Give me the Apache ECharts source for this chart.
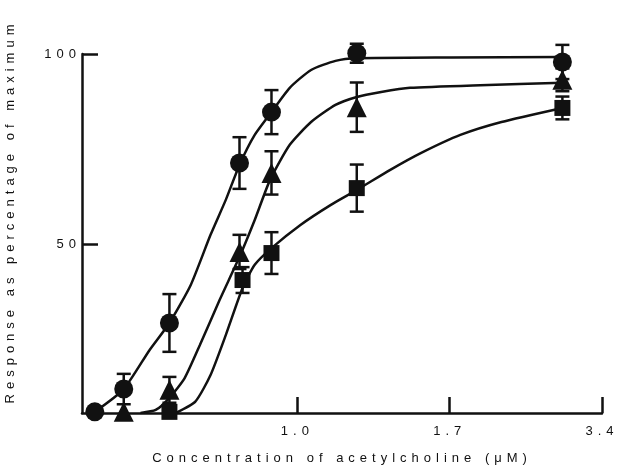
<!DOCTYPE html>
<html>
<head>
<meta charset="utf-8">
<script src="https://cdn.jsdelivr.net/npm/echarts@6/dist/echarts.min.js"></script>
<style>
  html, body { margin: 0; background: #fff; }
  #chart { width: 617px; height: 466px; }
</style>
</head>
<body>
<div id="chart"></div>
<script>
// x is in "dose step" units: 1 = the 1.0 tick, 2 = 1.7, 3 = 3.4
const tickX = [1, 2, 3];
const tickLabels = ['1.0', '1.7', '3.4'];
const yTicks = [50, 100];

// circles
const circleX = [-0.33, -0.14, 0.16, 0.62, 0.83, 1.39, 2.74];
const circleY = [5.8, 11.8, 29.2, 71.3, 84.7, 100.2, 97.9];
const circleErr = [0, 4, 7.6, 6.8, 5.8, 2.5, 4.5];
// triangles
const triX = [-0.14, 0.16, 0.62, 0.83, 1.39, 2.74];
const triY = [5.8, 11.6, 47.9, 68.7, 86, 93.2];
const triErr = [0, 3.4, 4.5, 5.7, 6.5, 3];
// squares
const sqX = [0.16, 0.64, 0.83, 1.39, 2.74];
const sqY = [5.8, 40.5, 47.6, 64.7, 85.8];
const sqErr = [0, 3.4, 5.5, 6.2, 3];

// fitted curves
const circleCurveX = [-0.33, -0.14, 0.03, 0.16, 0.30, 0.43, 0.53, 0.62, 0.72, 0.83, 0.95, 1.09, 1.25, 1.39, 2.01, 2.74];
const circleCurveY = [5.8, 11.8, 22.1, 29.2, 39.2, 52.4, 61.6, 70.8, 78.7, 84.7, 91.1, 95.8, 98.2, 98.9, 99.1, 99.2];
const triCurveX = [-0.03, 0.07, 0.16, 0.26, 0.36, 0.49, 0.62, 0.72, 0.82, 0.95, 1.09, 1.25, 1.39, 1.55, 1.74, 2.20, 2.74];
const triCurveY = [5.5, 6.3, 9.5, 14.7, 23.4, 35.3, 46.6, 56.3, 66.8, 76.1, 82.1, 86.6, 88.7, 90, 91.1, 91.8, 92.4];
const sqCurveX = [0.20, 0.33, 0.43, 0.53, 0.64, 0.72, 0.83, 1.02, 1.22, 1.39, 1.61, 1.81, 2.07, 2.34, 2.74];
const sqCurveY = [5.5, 8.5, 15.5, 26, 38.4, 44.5, 48.9, 55, 60.3, 64.2, 69.5, 73.9, 78.7, 82.1, 85.8];

// the figure's lettering is widely spaced; canvas letterSpacing does that
['fillText', 'measureText'].forEach(function (fn) {
  const orig = CanvasRenderingContext2D.prototype[fn];
  CanvasRenderingContext2D.prototype[fn] = function () {
    this.letterSpacing = '5px';
    return orig.apply(this, arguments);
  };
});

const ink = '#111';
const zip = (xs, ys) => xs.map((x, i) => [x, ys[i]]);
const zip3 = (xs, ys, es) => xs.map((x, i) => [x, ys[i], es[i]]);

function curve(xs, ys) {
  return {
    type: 'line', data: zip(xs, ys), smooth: 0.2, showSymbol: false,
    lineStyle: { color: ink, width: 2.5 }, z: 1
  };
}
function errorBars(xs, ys, es) {
  return {
    type: 'custom', z: 2,
    data: zip3(xs, ys, es),
    renderItem: function (params, api) {
      const e = api.value(2);
      if (!e) return;
      const top = api.coord([api.value(0), api.value(1) + e]);
      const bot = api.coord([api.value(0), api.value(1) - e]);
      const w = 7;
      const st = { stroke: ink, lineWidth: 2.5 };
      return {
        type: 'group', children: [
          { type: 'line', shape: { x1: top[0], y1: top[1], x2: bot[0], y2: bot[1] }, style: st },
          { type: 'line', shape: { x1: top[0] - w, y1: top[1], x2: top[0] + w, y2: top[1] }, style: st },
          { type: 'line', shape: { x1: bot[0] - w, y1: bot[1], x2: bot[0] + w, y2: bot[1] }, style: st }
        ]
      };
    }
  };
}
function markers(xs, ys, symbol, size) {
  return {
    type: 'scatter', data: zip(xs, ys), symbol: symbol, symbolSize: size,
    itemStyle: { color: ink, opacity: 1 }, clip: false, z: 3
  };
}

const font = 'Liberation Sans, Arial, sans-serif';
const chart = echarts.init(document.getElementById('chart'));
chart.setOption({
  animation: false,
  grid: { left: 82, right: 15, top: 54, bottom: 53, outerBoundsMode: 'none' },
  xAxis: {
    type: 'value', min: -0.414, max: 3,
    axisLine: { onZero: false, lineStyle: { color: ink, width: 2.5 } },
    axisTick: { inside: true, length: 16, customValues: tickX, lineStyle: { color: ink, width: 2.5 } },
    axisLabel: {
      customValues: tickX, margin: 9, color: ink, fontSize: 13, fontFamily: font,
      formatter: v => tickLabels[tickX.indexOf(v)]
    },
    splitLine: { show: false },
    name: 'Concentration of acetylcholine (μM)', nameLocation: 'middle', nameGap: 36,
    nameTextStyle: { color: ink, fontSize: 13, fontFamily: font }
  },
  yAxis: {
    type: 'value', min: 5.5, max: 100,
    axisLine: { show: true, onZero: false, lineStyle: { color: ink, width: 2.5 } },
    axisTick: { show: true, inside: true, length: 16, customValues: yTicks, lineStyle: { color: ink, width: 2.5 } },
    axisLabel: { customValues: yTicks, margin: 1, color: ink, fontSize: 13, fontFamily: font },
    splitLine: { show: false },
    name: 'Response as percentage of maximum', nameLocation: 'middle', nameGap: 63,
    nameTextStyle: { color: ink, fontSize: 13, fontFamily: font, padding: [0, 0, 0, 44] }
  },
  series: [
    curve(circleCurveX, circleCurveY),
    curve(triCurveX, triCurveY),
    curve(sqCurveX, sqCurveY),
    errorBars(circleX, circleY, circleErr),
    errorBars(triX, triY, triErr),
    errorBars(sqX, sqY, sqErr),
    markers(circleX, circleY, 'circle', 19),
    markers(triX, triY, 'triangle', 20),
    markers(sqX, sqY, 'rect', 16)
  ]
});
</script>
</body>
</html>
